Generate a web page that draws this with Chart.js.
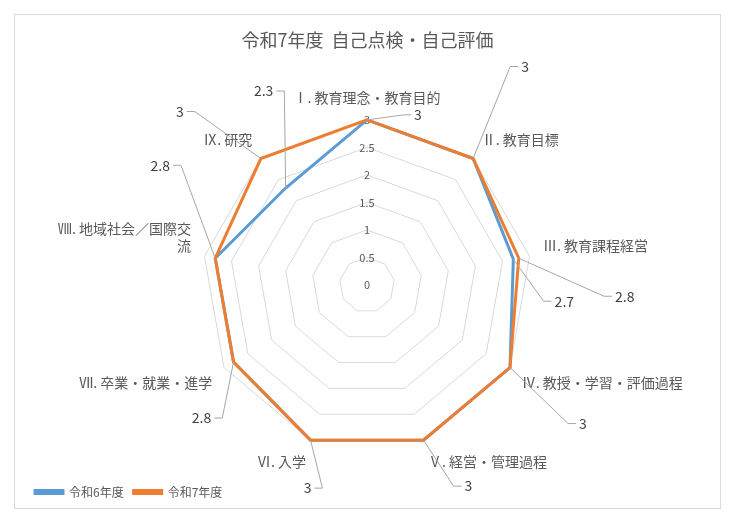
<!DOCTYPE html><html><head><meta charset="utf-8">
<script src="https://cdn.jsdelivr.net/npm/chart.js@4"></script>
<style>body{margin:0;background:#fff;font-family:"Noto Sans CJK JP"}#box{position:absolute;left:14px;top:14px;width:705px;height:493px;border:1px solid #d9d9d9}</style></head><body>
<div id="box"><canvas id="c"></canvas></div>
<script>
const categories=[["Ⅰ. 教育理念・教育目的"],["Ⅱ. 教育目標"],["Ⅲ. 教育課程経営"],["Ⅳ. 教授・学習・評価過程"],["Ⅴ. 経営・管理過程"],["Ⅵ. 入学"],["Ⅶ. 卒業・就業・進学"],["Ⅷ. 地域社会／国際交","流"],["Ⅸ. 研究"]];
const r6=[3,3,2.7,3,3,3,2.8,2.8,2.3];
const r7=[3,3,2.8,3,3,3,2.8,2.8,3];
const ticks=[0,0.5,1,1.5,2,2.5,3];
// data labels: [dataset, index, dx, dy]
const labelOffsets=[[1,0,51,-5],[1,1,52,-92],[1,2,106,38],[0,2,51,42],[1,3,73,56],[1,4,45,46],[1,5,-3,48],[1,6,-32,56],[1,7,-55,-93],[1,8,-81,-47],[0,8,-22,-97]];
const F='"Noto Sans CJK JP", sans-serif';
const lbl={id:'lbl',afterDatasetsDraw(ch){const c=ch.ctx;c.save();
const s=ch.scales.r;c.font='11px '+F;c.fillStyle='#595959';c.textAlign='center';c.textBaseline='middle';c.fillText('0',s.xCenter,s.yCenter);
c.font='14px '+F;
labelOffsets.forEach(([d,i,dx,dy])=>{const p=ch.getDatasetMeta(d).data[i];const x=p.x+dx,y=p.y+dy;
const t=String(ch.data.datasets[d].data[i]);const w=c.measureText(t).width;
c.strokeStyle='#a6a6a6';c.lineWidth=1;c.beginPath();
const left=dx<0;const sx=left?x+w/2+3:x-w/2-3;const ex=left?sx+8:sx-8;
c.moveTo(sx,y);c.lineTo(ex,y);c.lineTo(p.x,p.y);c.stroke();
c.fillStyle='#404040';c.textAlign='center';c.fillText(t,x,y);});c.restore();}};
new Chart(document.getElementById('c'),{type:'radar',
data:{labels:categories,datasets:[
{label:'令和6年度',data:r6,borderColor:'#5b9bd5',backgroundColor:'#5b9bd5',borderWidth:3,pointRadius:0,fill:false,order:1},
{label:'令和7年度',data:r7,borderColor:'#ed7d31',backgroundColor:'#ed7d31',borderWidth:3,pointRadius:0,fill:false,order:0}]},
options:{animation:false,responsive:true,maintainAspectRatio:false,
layout:{padding:{top:0,bottom:0,left:10,right:10}},
plugins:{title:{display:true,text:'令和7年度  自己点検・自己評価',color:'#595959',font:{family:F,size:18,weight:'normal'},padding:{top:14,bottom:34}},
legend:{position:'bottom',align:'start',labels:{boxWidth:28,boxHeight:3,color:'#595959',font:{family:F,size:12},sort:(a,b)=>a.datasetIndex-b.datasetIndex}},tooltip:{enabled:false}},
scales:{r:{min:0,max:3,ticks:{stepSize:0.5,color:'#595959',backdropColor:'rgba(0,0,0,0)',font:{family:F,size:11},callback:v=>ticks.includes(v)?String(v):''},
grid:{color:'#d9d9d9'},angleLines:{display:false},
pointLabels:{color:'#595959',font:{family:F,size:14},padding:6}}}},
plugins:[lbl]});
</script></body></html>
